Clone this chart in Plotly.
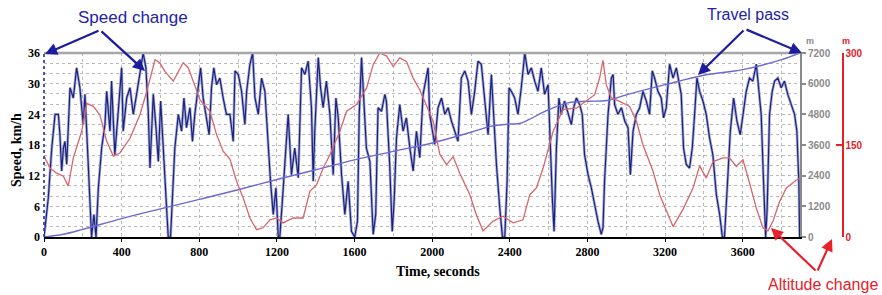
import plotly.graph_objects as go

# ---------------- data ----------------
speed_time = [
    0, 22, 40, 57, 74, 82, 91, 100, 108, 117,
    134, 151, 168, 185, 202, 211, 228, 237, 245, 257,
    268, 280, 297, 314, 323, 340, 348, 365, 383, 400,
    408, 426, 443, 460, 477, 494, 511, 525, 537, 546,
    563, 577, 589, 601, 614, 628, 640, 652, 662, 674,
    692, 709, 721, 734, 752, 765, 777, 795, 807, 820,
    838, 851, 863, 875, 889, 906, 923, 940, 958, 975,
    984, 1001, 1018, 1035, 1044, 1061, 1075, 1087, 1104, 1121,
    1138, 1155, 1167, 1181, 1195, 1207, 1215, 1229, 1241, 1258,
    1275, 1292, 1310, 1327, 1344, 1361, 1378, 1387, 1395, 1413,
    1425, 1438, 1455, 1473, 1490, 1504, 1516, 1533, 1550, 1567,
    1584, 1601, 1615, 1624, 1636, 1648, 1661, 1679, 1696, 1709,
    1721, 1739, 1756, 1764, 1781, 1794, 1804, 1816, 1833, 1850,
    1867, 1885, 1902, 1919, 1936, 1953, 1970, 1979, 1987, 2005,
    2013, 2030, 2048, 2065, 2082, 2099, 2116, 2133, 2150, 2168,
    2185, 2202, 2219, 2236, 2253, 2271, 2288, 2305, 2317, 2331,
    2348, 2362, 2374, 2386, 2396, 2408, 2425, 2442, 2459, 2477,
    2494, 2511, 2528, 2545, 2562, 2579, 2597, 2605, 2619, 2628,
    2640, 2653, 2665, 2682, 2700, 2717, 2729, 2743, 2760, 2773,
    2785, 2803, 2820, 2837, 2854, 2871, 2880, 2888, 2897, 2906,
    2923, 2932, 2940, 2957, 2975, 2992, 3009, 3021, 3035, 3052,
    3069, 3086, 3103, 3120, 3134, 3146, 3163, 3180, 3192, 3206,
    3223, 3241, 3258, 3271, 3283, 3295, 3309, 3326, 3340, 3352,
    3364, 3378, 3395, 3412, 3429, 3446, 3464, 3481, 3495, 3506,
    3518, 3536, 3553, 3570, 3587, 3601, 3618, 3635, 3652, 3670,
    3683, 3695, 3707, 3718, 3726, 3738, 3752, 3764, 3781, 3798,
    3815, 3832, 3850, 3867, 3879, 3889, 3893,
]
speed_kmh = [
    0, 7.6, 17.4, 24.0, 24.0, 20.0, 12.9, 17.4, 18.7, 14.2,
    29.2, 27.2, 33.1, 29.2, 22.0, 27.9, 14.2, 7.6, 0, 4.4,
    0, 9.6, 17.4, 22.0, 28.5, 20.7, 30.5, 16.1, 25.3, 33.1,
    20.7, 27.2, 29.2, 24.0, 27.9, 31.8, 36.0, 33.1, 24.6, 13.5,
    27.9, 21.4, 14.8, 26.6, 17.4, 8.9, 0, 0, 7.6, 17.4,
    24.0, 20.7, 27.2, 21.4, 25.3, 18.7, 24.0, 29.2, 33.1, 27.2,
    22.7, 20.0, 29.2, 33.1, 29.8, 31.1, 27.2, 24.0, 24.0, 18.7,
    32.5, 31.8, 28.5, 22.0, 28.5, 33.8, 36.0, 27.2, 24.0, 31.1,
    28.5, 17.4, 10.9, 4.4, 9.6, 0, 0, 7.6, 14.2, 24.0,
    12.2, 17.4, 11.6, 33.1, 31.8, 34.4, 25.3, 10.9, 20.7, 35.1,
    29.2, 25.3, 30.5, 24.0, 12.2, 27.2, 23.3, 12.2, 4.4, 10.9,
    1.1, 0, 3.1, 24.0, 35.1, 27.2, 17.4, 14.8, 0.5, 4.4,
    25.3, 24.6, 27.9, 26.6, 14.2, 1.1, 7.0, 19.4, 25.9, 20.7,
    23.3, 17.4, 12.9, 20.7, 15.5, 27.9, 31.1, 33.1, 24.0, 20.0,
    18.1, 25.3, 27.2, 24.0, 25.3, 22.7, 20.7, 18.7, 31.1, 32.5,
    30.5, 24.0, 28.5, 34.4, 33.8, 26.6, 20.0, 31.8, 24.0, 14.2,
    5.7, 0, 0, 10.9, 29.2, 28.5, 27.2, 24.0, 29.2, 36.0,
    31.8, 33.1, 30.5, 28.5, 33.1, 27.9, 29.8, 20.7, 7.6, 1.1,
    17.4, 27.2, 24.0, 26.6, 24.0, 22.0, 25.3, 27.2, 25.9, 24.0,
    16.1, 12.2, 9.6, 6.3, 3.1, 0.5, 1.8, 10.9, 17.4, 24.0,
    31.1, 31.8, 25.9, 24.0, 25.3, 22.7, 21.4, 12.2, 20.7, 24.0,
    25.3, 28.5, 26.6, 24.0, 32.5, 31.1, 28.5, 27.2, 23.3, 25.3,
    33.8, 31.1, 33.1, 30.5, 27.9, 17.4, 14.2, 13.5, 17.4, 24.0,
    31.1, 28.5, 26.6, 24.0, 19.4, 16.1, 8.3, 4.4, 0, 0,
    7.6, 20.7, 27.2, 22.7, 20.0, 24.0, 28.5, 31.1, 30.5, 33.8,
    29.2, 24.0, 10.9, 0, 5.7, 24.0, 28.5, 30.5, 31.1, 29.2,
    30.5, 27.9, 25.9, 24.0, 20.7, 10.9, 0,
]

altitude_time = [
    0, 31, 65, 100, 125, 151, 194, 220, 254, 288,
    323, 357, 391, 443, 494, 529, 572, 597, 623, 666,
    717, 743, 778, 803, 855, 889, 923, 958, 992, 1026,
    1061, 1095, 1129, 1164, 1198, 1232, 1284, 1335, 1370, 1404,
    1438, 1473, 1524, 1559, 1610, 1662, 1696, 1730, 1765, 1799,
    1833, 1868, 1902, 1936, 1971, 2005, 2039, 2074, 2108, 2142,
    2194, 2228, 2262, 2314, 2365, 2417, 2468, 2503, 2537, 2571,
    2623, 2674, 2743, 2794, 2837, 2863, 2880, 2897, 2923, 2966,
    3017, 3052, 3086, 3137, 3172, 3241, 3292, 3344, 3378, 3412,
    3447, 3498, 3532, 3567, 3601, 3635, 3670, 3704, 3730, 3756,
    3790, 3825, 3876, 3893,
]
altitude_m = [
    132, 112, 104, 99, 83, 129, 172, 218, 213, 199,
    156, 132, 137, 161, 199, 237, 289, 284, 270, 254,
    284, 276, 246, 224, 205, 167, 140, 127, 91, 64,
    31, 12, 15, 28, 31, 23, 31, 31, 75, 85,
    112, 134, 172, 205, 216, 243, 281, 300, 295, 278,
    292, 286, 259, 240, 214, 189, 135, 118, 131, 104,
    69, 36, 10, 26, 34, 23, 28, 69, 80, 112,
    172, 208, 210, 222, 232, 260, 288, 248, 227, 221,
    213, 189, 150, 108, 69, 17, 45, 80, 116, 96,
    123, 129, 129, 115, 126, 88, 47, 15, 10, 26,
    58, 80, 93, 95,
]

distance_time = [0, 100, 200, 400, 600, 800, 1000, 1200, 1400, 1600, 1800, 2000, 2200,
                 2300, 2400, 2450, 2500, 2600, 2700, 2800, 2900, 3000, 3200, 3400,
                 3600, 3800, 3893]
distance_m = [0, 110, 300, 720, 1100, 1470, 1850, 2250, 2630, 3020, 3350, 3680, 4100,
              4330, 4420, 4440, 4600, 4980, 5250, 5310, 5340, 5560, 5960, 6330,
              6550, 6940, 7200]

time_ticks = [0, 400, 800, 1200, 1600, 2000, 2400, 2800, 3200, 3600]
speed_ticks = [0, 6, 12, 18, 24, 30, 36]
distance_ticks = [0, 1200, 2400, 3600, 4800, 6000, 7200]
altitude_ticks = [0, 150, 300]

assert len(speed_time) == len(speed_kmh)
assert len(altitude_time) == len(altitude_m)
assert len(distance_time) == len(distance_m)

# ---------------- geometry (page pixels) ----------------
W, H = 882, 295
PLOT_L, PLOT_T, PLOT_R, PLOT_B = 44, 53, 800, 237   # plot area
PAPER_R = 850
ML, MT, MR, MB = PLOT_L, PLOT_T, W - PAPER_R, H - PLOT_B
PW = PAPER_R - PLOT_L
PH = PLOT_B - PLOT_T


def px(x):
    return (x - PLOT_L) / PW


def py(y):
    return (PLOT_B - y) / PH


NAVY = "#1b2082"
HALO = "#a9afcf"
RED_LINE = "#d9646c"
DIST = "#6e68d2"
GRAY = "#8a8a8a"
RED = "#e8202a"
BLUE_TXT = "#2323a6"
GRID = "#b9b9b9"

fig = go.Figure()

fig.add_trace(go.Scatter(x=speed_time, y=speed_kmh, mode="lines",
                         line=dict(color=HALO, width=2.8), hoverinfo="skip",
                         showlegend=False))
fig.add_trace(go.Scatter(x=speed_time, y=speed_kmh, mode="lines",
                         line=dict(color=NAVY, width=1.2), showlegend=False))
fig.add_trace(go.Scatter(x=altitude_time, y=altitude_m, mode="lines", yaxis="y3",
                         line=dict(color=RED_LINE, width=1.3), showlegend=False))
fig.add_trace(go.Scatter(x=distance_time, y=distance_m, mode="lines", yaxis="y2",
                         line=dict(color=DIST, width=1.4, shape="spline"),
                         showlegend=False))

serif_bold = dict(family="Liberation Serif", size=12, color="black", weight="bold")

fig.update_layout(
    width=W, height=H,
    margin=dict(l=ML, r=MR, t=MT, b=MB, autoexpand=False),
    paper_bgcolor="white", plot_bgcolor="white",
    showlegend=False,
    xaxis=dict(
        domain=[0, (PLOT_R - PLOT_L) / PW], automargin=False,
        range=[0, 3895], tickvals=time_ticks,
        showgrid=True, gridcolor=GRID, griddash="dot", gridwidth=1,
        minor=dict(dtick=200, tick0=0, showgrid=True, gridcolor=GRID,
                   griddash="dot", gridwidth=1),
        showline=True, linecolor="black", linewidth=2,
        ticks="outside", ticklen=3, tickcolor="black",
        tickfont=serif_bold, zeroline=False,
    ),
    yaxis=dict(
        range=[0, 36], tickvals=speed_ticks, automargin=False,
        showgrid=True, gridcolor=GRID, griddash="dot", gridwidth=1,
        minor=dict(dtick=2, tick0=0, showgrid=True, gridcolor=GRID,
                   griddash="dot", gridwidth=1),
        showline=False, ticks="", ticklabelstandoff=3,
        tickfont=serif_bold, zeroline=False,
    ),
    yaxis2=dict(
        overlaying="y", side="right", anchor="x", automargin=False,
        range=[0, 7200], tickvals=distance_ticks,
        showgrid=False, zeroline=False,
        showline=True, linecolor=GRAY, linewidth=2,
        ticks="outside", ticklen=4, tickcolor=GRAY, tickwidth=1.5,
        tickfont=dict(family="Arial", size=10, color=GRAY, weight="bold"),
    ),
    yaxis3=dict(
        overlaying="y", side="right", anchor="free", automargin=False,
        position=px(842.5),
        range=[0, 300], tickvals=altitude_ticks,
        showgrid=False, zeroline=False,
        showline=True, linecolor=RED, linewidth=2,
        ticks="inside", ticklen=6, tickcolor=RED, tickwidth=2,
        tickfont=dict(family="Arial", size=10, color=RED, weight="bold"),
    ),
)

# frame: top gray border and dotted blue left edge
fig.add_shape(type="line", xref="x domain", yref="y domain", x0=0, x1=1, y0=1, y1=1,
              line=dict(color="#a6a6a6", width=2.5))
fig.add_shape(type="line", xref="x domain", yref="y domain", x0=0, x1=0, y0=0, y1=1,
              line=dict(color="#3a44a8", width=1.8, dash="dot"))


def label(text, x, y, font, xanchor="center", **kw):
    return dict(text=text, x=px(x), y=py(y), xref="paper", yref="paper",
                showarrow=False, xanchor=xanchor, yanchor="middle", font=font, **kw)


annotations = [
    label("Time, seconds", 438, 271,
          dict(family="Liberation Serif", size=14, color="black", weight="bold")),
    label("Speed, km/h", 16, 150,
          dict(family="Liberation Serif", size=14, color="black", weight="bold"),
          textangle=-90),
    label("m", 810, 41, dict(family="Arial", size=9, color=GRAY, weight="bold")),
    label("m", 846, 41, dict(family="Arial", size=9, color=RED, weight="bold")),
    label("Speed change", 133, 17, dict(family="Arial", size=17, color=BLUE_TXT)),
    label("Travel pass", 748, 14, dict(family="Arial", size=16, color=BLUE_TXT)),
    label("Altitude change", 766, 284, dict(family="Arial", size=16, color=RED),
          xanchor="left"),
]


def arrow(tail, head, color):
    return dict(text="", x=px(head[0]), y=py(head[1]), xref="paper", yref="paper",
                ax=tail[0] - head[0], ay=tail[1] - head[1], axref="pixel",
                ayref="pixel", showarrow=True, arrowhead=2, arrowsize=1.1,
                arrowwidth=2.2, arrowcolor=color, standoff=0, startstandoff=0)


annotations += [
    arrow((100, 30), (45, 54), "#1c1c9e"),
    arrow((100, 30), (145, 71), "#1c1c9e"),
    arrow((745, 29), (698, 75), "#1c1c9e"),
    arrow((745, 29), (802, 53), "#1c1c9e"),
    arrow((817, 272), (771, 228), RED),
    arrow((817, 272), (832, 239), RED),
]
fig.update_layout(annotations=annotations)

# remove the browser's default 8px body margin so the figure sits at the page origin
fig.write_html("out.html",
               config={"displayModeBar": False},
               post_script="document.body.style.margin='0';"
                           "document.body.style.overflow='hidden';")
